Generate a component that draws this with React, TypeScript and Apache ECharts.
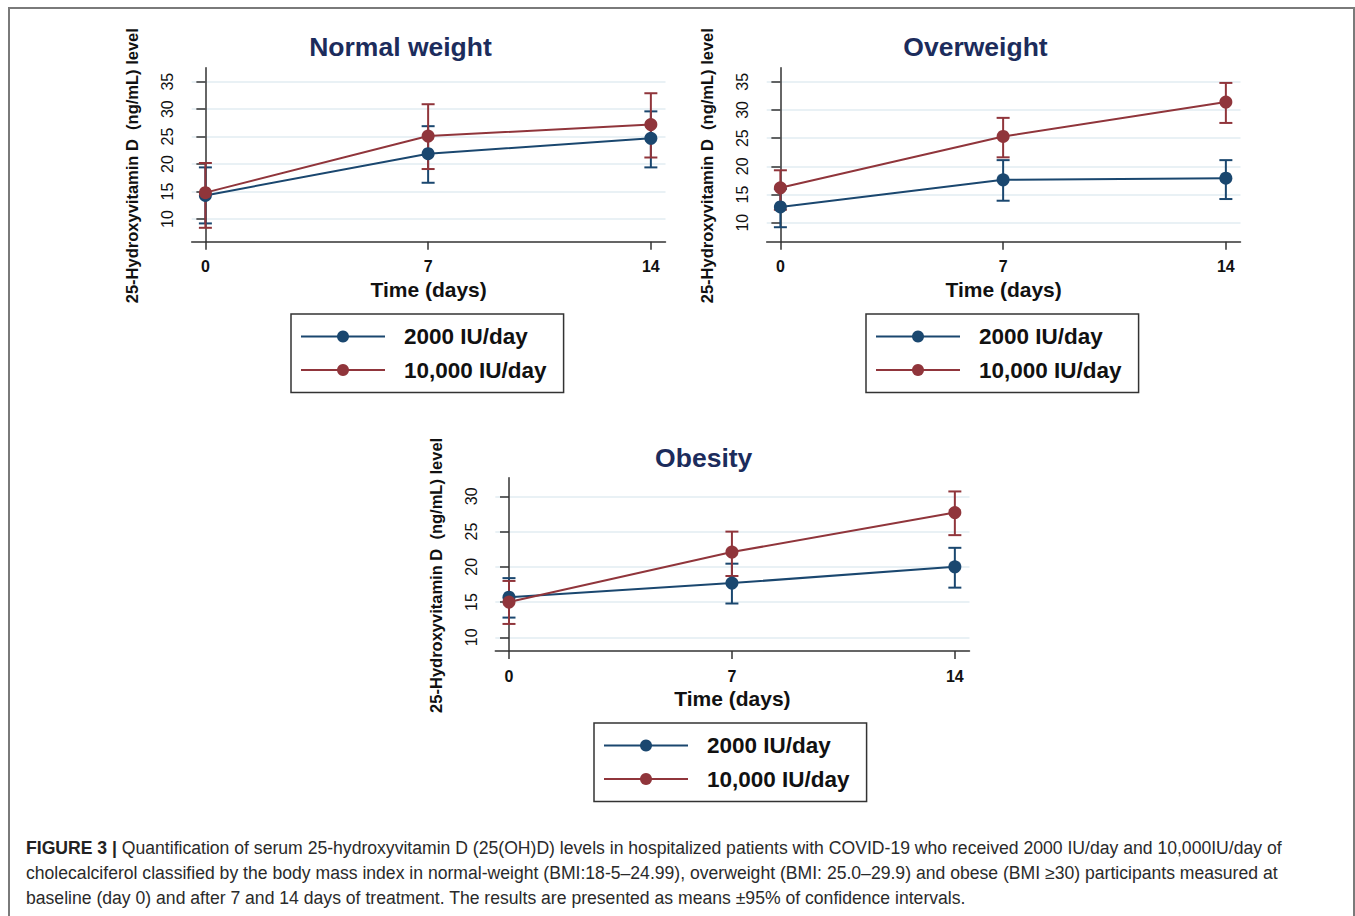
import React, { useEffect, useRef } from "react";
import * as echarts from "echarts";

// ---------- data ----------
const days = [0, 7, 14];
const panelTitles = ["Normal weight", "Overweight", "Obesity"];
const seriesNames = ["2000 IU/day", "10,000 IU/day"];

// Normal weight
const normalLowMean = [14.3, 21.9, 24.7];
const normalLowLo = [9.2, 16.6, 19.4];
const normalLowHi = [19.4, 26.9, 29.6];
const normalHighMean = [14.8, 25.1, 27.2];
const normalHighLo = [8.4, 19.1, 21.2];
const normalHighHi = [20.2, 30.9, 32.9];

// Overweight
const overLowMean = [12.8, 17.6, 17.9];
const overLowLo = [9.2, 13.9, 14.2];
const overLowHi = [16.0, 21.1, 21.1];
const overHighMean = [16.2, 25.3, 31.4];
const overHighLo = [12.3, 21.6, 27.7];
const overHighHi = [19.3, 28.6, 34.8];

// Obesity
const obeseLowMean = [15.7, 17.7, 20.0];
const obeseLowLo = [12.8, 14.8, 17.05];
const obeseLowHi = [18.4, 20.45, 22.7];
const obeseHighMean = [15.0, 22.1, 27.7];
const obeseHighLo = [11.9, 18.7, 24.5];
const obeseHighHi = [18.0, 25.0, 30.7];

const yTicksA = [10, 15, 20, 25, 30, 35];
const yTicksB = [10, 15, 20, 25, 30];

const xTitle = "Time (days)";
const yTitle = "25-Hydroxyvitamin D  (ng/mL) level";
const captionBold = "FIGURE 3 |";
const captionLines = [
  " Quantification of serum 25-hydroxyvitamin D (25(OH)D) levels in hospitalized patients with COVID-19 who received 2000 IU/day and 10,000IU/day of",
  "cholecalciferol classified by the body mass index in normal-weight (BMI:18-5\u201324.99), overweight (BMI: 25.0\u201329.9) and obese (BMI \u226530) participants measured at",
  "baseline (day 0) and after 7 and 14 days of treatment. The results are presented as means \u00b195% of confidence intervals.",
];

// ---------- styling / layout ----------
const BLUE = "#1a476f";
const RED = "#90353b";
const TITLE_COLOR = "#1c2c5c";
const AXIS_COLOR = "#333333";
const GRID_COLOR = "#e2ecf2";
const FONT = "'Liberation Sans', Arial, Helvetica, sans-serif";

const panels = [
  {
    title: panelTitles[0],
    grid: { left: 191.7, top: 67.7, width: 473.8, height: 174 },
    yMin: 5.87, yMax: 37.55, yTicks: yTicksA,
    titlePos: { x: 400.5, y: 33 },
    legendPos: { x: 291, y: 314 },
    low: [normalLowMean, normalLowLo, normalLowHi],
    high: [normalHighMean, normalHighLo, normalHighHi],
  },
  {
    title: panelTitles[1],
    grid: { left: 766.7, top: 67.7, width: 473.8, height: 174 },
    yMin: 6.63, yMax: 37.5, yTicks: yTicksA,
    titlePos: { x: 975.5, y: 33 },
    legendPos: { x: 866, y: 314 },
    low: [overLowMean, overLowLo, overLowHi],
    high: [overHighMean, overHighLo, overHighHi],
  },
  {
    title: panelTitles[2],
    grid: { left: 495.3, top: 477.7, width: 474.2, height: 173.3 },
    yMin: 8.06, yMax: 32.65, yTicks: yTicksB,
    titlePos: { x: 703.7, y: 444 },
    legendPos: { x: 594, y: 723 },
    low: [obeseLowMean, obeseLowLo, obeseLowHi],
    high: [obeseHighMean, obeseHighLo, obeseHighHi],
  },
];

function errRender(color: string) {
  return (params: any, api: any) => {
    const x = api.value(0);
    const lo = api.value(1);
    const hi = api.value(2);
    const pLo = api.coord([x, lo]);
    const pHi = api.coord([x, hi]);
    const hw = 6.5;
    const style = { stroke: color, lineWidth: 2 };
    return {
      type: "group",
      children: [
        { type: "line", shape: { x1: pLo[0], y1: pLo[1], x2: pHi[0], y2: pHi[1] }, style },
        { type: "line", shape: { x1: pLo[0] - hw, y1: pLo[1], x2: pLo[0] + hw, y2: pLo[1] }, style },
        { type: "line", shape: { x1: pHi[0] - hw, y1: pHi[1], x2: pHi[0] + hw, y2: pHi[1] }, style },
      ],
    };
  };
}

function buildOption() {
  const grid: any[] = [];
  const xAxis: any[] = [];
  const yAxis: any[] = [];
  const series: any[] = [];
  const title: any[] = [];
  const legend: any[] = [];

  panels.forEach((p, i) => {
    grid.push({ ...p.grid, containLabel: false });
    xAxis.push({
      type: "value",
      gridIndex: i,
      min: -0.43,
      max: 14.46,
      axisLine: { show: true, lineStyle: { color: AXIS_COLOR, width: 1.5 } },
      axisTick: { show: true, customValues: days, length: 8, lineStyle: { color: AXIS_COLOR, width: 1.5 } },
      axisLabel: { customValues: days, margin: 17, fontSize: 16, fontWeight: "bold", color: "#111", fontFamily: FONT },
      splitLine: { show: false },
      name: xTitle,
      nameLocation: "middle",
      nameGap: 37,
      nameTextStyle: { fontSize: 21, fontWeight: "bold", color: "#111", fontFamily: FONT },
    });
    yAxis.push({
      type: "value",
      gridIndex: i,
      min: p.yMin,
      max: p.yMax,
      axisLine: { show: true, lineStyle: { color: AXIS_COLOR, width: 1.5 } },
      axisTick: { show: true, customValues: p.yTicks, length: 9, lineStyle: { color: AXIS_COLOR, width: 1.5 } },
      axisLabel: { customValues: p.yTicks, rotate: 90, margin: 16, fontSize: 16, color: "#111", fontFamily: FONT },
      splitLine: { show: true, lineStyle: { color: GRID_COLOR, width: 1.5 } },
      name: yTitle,
      nameLocation: "middle",
      nameGap: 51,
      nameRotate: 90,
      nameTextStyle: { fontSize: 16.5, fontWeight: "bold", color: "#111", fontFamily: FONT, padding: [0, 22, 0, 0] },
    });
    title.push({
      text: p.title,
      left: p.titlePos.x,
      top: p.titlePos.y,
      textAlign: "center",
      padding: 0,
      textStyle: { fontSize: 26.5, fontWeight: "bold", color: TITLE_COLOR, fontFamily: FONT },
    });
    legend.push({
      data: seriesNames,
      orient: "vertical",
      left: p.legendPos.x,
      top: p.legendPos.y,
      padding: [11, 17, 11, 9],
      itemGap: 10.5,
      itemWidth: 84,
      itemHeight: 15,
      borderColor: "#333",
      borderWidth: 1.5,
      selectedMode: false,
      textStyle: { fontSize: 22.5, fontWeight: "bold", color: "#111", fontFamily: FONT, padding: [0, 0, 0, 14] },
    });

    const groups = [
      { name: seriesNames[0], color: BLUE, d: p.low },
      { name: seriesNames[1], color: RED, d: p.high },
    ];
    groups.forEach((g) => {
      series.push({
        type: "custom",
        name: g.name + " 95% CI",
        xAxisIndex: i,
        yAxisIndex: i,
        renderItem: errRender(g.color),
        encode: { x: 0, y: [1, 2] },
        data: days.map((d, k) => [d, g.d[1][k], g.d[2][k]]),
        silent: true,
      });
    });
    groups.forEach((g) => {
      series.push({
        type: "line",
        name: g.name,
        xAxisIndex: i,
        yAxisIndex: i,
        data: days.map((d, k) => [d, g.d[0][k]]),
        symbol: "circle",
        symbolSize: 13,
        lineStyle: { color: g.color, width: 2 },
        itemStyle: { color: g.color },
      });
    });
  });

  const graphic: any[] = [
    {
      type: "rect",
      shape: { x: 9, y: 8, width: 1345, height: 1000 },
      style: { fill: "none", stroke: "#7a7a7a", lineWidth: 2 },
      silent: true,
    },
    {
      type: "text",
      x: 26,
      y: 835,
      style: {
        text: "{b|" + captionBold + "}" + captionLines.join("\n"),
        fontSize: 17.6,
        lineHeight: 25,
        fill: "#2a2a2a",
        fontFamily: FONT,
        rich: {
          b: { fontWeight: "bold", fontSize: 17.6, lineHeight: 25, fill: "#222", fontFamily: FONT },
        },
      },
    },
  ];

  return {
    animation: false,
    backgroundColor: "#ffffff",
    textStyle: { fontFamily: FONT },
    title,
    legend,
    grid,
    xAxis,
    yAxis,
    series,
    graphic,
  };
}

export default function App() {
  const ref = useRef<HTMLDivElement>(null);
  useEffect(() => {
    document.body.style.margin = "0";
    if (!ref.current) return;
    const chart = echarts.init(ref.current, undefined, { renderer: "svg" });
    chart.setOption(buildOption() as any);
    return () => chart.dispose();
  }, []);
  return <div ref={ref} style={{ width: 1355, height: 916 }} />;
}
